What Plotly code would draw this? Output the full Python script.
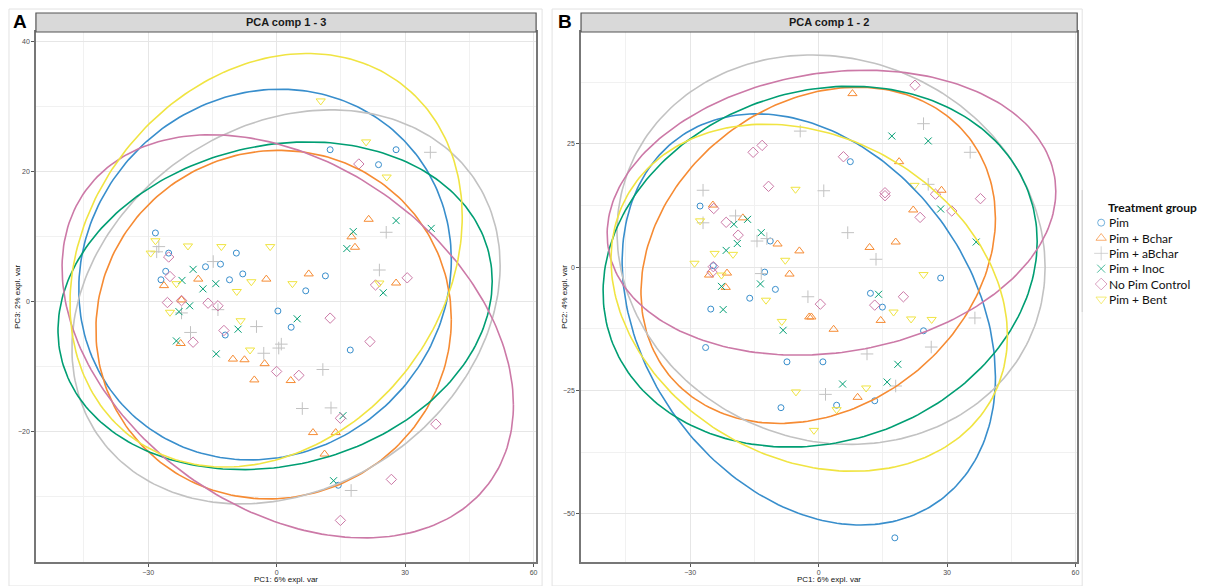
import numpy as np
import plotly.graph_objects as go

# Treatment groups, mixOmics default palette and point symbols
groups = ["Pim", "Pim + Bchar", "Pim + aBchar", "Pim + Inoc", "No Pim Control", "Pim + Bent"]
colors = ["#388ECC", "#F68B33", "#C2C2C2", "#009E73", "#CC79A7", "#F0E442"]
symbols = ["circle-open", "triangle-up-open", "cross-thin-open", "x-thin-open",
           "diamond-open", "triangle-down-open"]
msizes = [6, 8, 9, 7, 8, 8]

# ---- Panel A: PC1 vs PC3 sample scores ----
A_pim_x = [-28.3, -25.9, -27.0, -25.2, -16.6, -13.1, -9.4, -7.9, -11.0, -12.0, 0.3, 3.4, 12.5, 27.9, 23.8, 11.4, 6.8, 17.2, 14.4]
A_pim_y = [10.6, 4.7, 3.4, 7.5, 5.4, 5.8, 7.5, 4.3, 3.4, -5.1, -1.4, -3.9, 23.4, 23.4, 21.1, 4.0, 1.7, -7.4, -28.2]
A_bchar_x = [-26.3, -18.3, -22.2, -22.4, -2.4, -10.2, -7.5, -2.8, 21.5, 17.5, 18.3, 7.5, 27.9, -5.2, 3.3, 8.5, 13.8, 11.2]
A_bchar_y = [2.5, 3.5, 0.3, -6.4, 3.5, -8.8, -8.9, -9.5, 12.7, 10.0, 8.4, 4.3, 2.9, -12.0, -12.1, -20.1, -20.1, -23.4]
A_abchar_x = [-27.5, -28.0, -14.8, -22.2, -13.7, -20.1, -4.7, -3.0, 0.5, 1.1, 35.9, 25.6, 24.0, 10.8, 6.0, 12.7, 17.4]
A_abchar_y = [8.5, 7.7, 6.2, -1.7, -1.2, -4.7, -3.8, -7.9, -7.1, -6.5, 23.0, 10.7, 4.9, -10.4, -16.4, -16.3, -29.0]
A_inoc_x = [-19.5, -22.1, -17.2, -14.2, -20.3, -22.8, -23.4, -9.0, -14.1, 4.8, 17.9, 16.4, 27.9, 36.1, 24.9, 15.5, 13.3]
A_inoc_y = [5.0, 3.3, 2.0, 2.8, -0.6, -1.5, -6.0, -4.2, -8.0, -2.6, 10.8, 8.2, 12.5, 11.3, 1.4, -17.5, -27.5]
A_nopim_x = [-25.2, -24.9, -25.5, -16.0, -13.7, -12.3, -19.5, -22.2, 19.2, 30.5, 23.1, 12.5, 21.8, 0.0, 5.2, 14.9, 37.2, 26.8, 14.9]
A_nopim_y = [6.9, 3.9, -0.1, -0.2, -0.6, -4.4, -6.2, 0.2, 21.2, 3.7, 2.6, -2.5, -6.1, -10.7, -11.3, -17.9, -18.8, -27.3, -33.6]
A_bent_x = [-28.3, -29.4, -20.7, -12.9, -1.5, -5.9, -9.3, 3.7, -23.4, -24.9, -8.4, -6.2, 10.3, 20.9, 25.7, 24.0]
A_bent_y = [9.4, 7.5, 8.6, 8.5, 8.5, 3.1, 1.6, 2.8, 2.8, -1.6, -2.9, -7.4, 30.9, 24.6, 19.2, 2.9]

# ---- Panel B: PC1 vs PC2 sample scores ----
B_pim_x = [-27.7, -24.6, -11.3, -12.6, -10.1, -16.1, -25.2, -26.4, -7.4, 1.0, 7.4, 28.5, 12.1, 14.9, 24.5, 4.2, 13.1, -8.8, 17.8]
B_pim_y = [12.4, 0.3, 5.3, -1.0, -4.5, -6.3, -8.5, -16.3, -19.2, -19.2, 21.4, -2.2, -5.3, -8.1, -12.9, -28.0, -27.1, -28.5, -54.9]
B_bchar_x = [-24.7, -17.7, -9.6, -4.5, -6.8, -21.4, -25.6, -21.7, -2.2, -1.7, 3.5, 7.9, 18.8, 28.7, 22.1, 11.9, 18.0, 14.5, 9.1]
B_bchar_y = [12.6, 10.0, 4.7, 3.3, -1.4, -1.2, -1.6, -4.1, -10.1, -10.1, -12.6, 35.2, 21.4, 15.6, 11.6, 4.0, 5.1, -10.8, -26.4]
B_abchar_x = [-27.0, -27.0, -19.4, -14.4, -12.1, -13.4, -2.5, 1.2, -4.3, 24.5, 35.4, 25.6, 6.8, 13.4, 36.5, 26.3, 11.3, 18.0, 1.6]
B_abchar_y = [15.6, 9.0, 10.4, 5.3, 5.8, -1.3, -6.0, 15.5, 27.6, 29.1, 23.3, 16.8, 7.0, 1.6, -10.3, -16.2, -17.6, -24.1, -25.8]
B_inoc_x = [-16.6, -19.8, -13.4, -19.0, -21.6, -22.7, -13.6, -22.3, -8.3, 17.1, 25.6, 28.5, 36.8, 14.0, 18.5, 5.6, 16.0]
B_inoc_y = [9.7, 8.7, 7.0, 4.8, 3.4, -3.9, -3.4, -8.6, -12.8, 26.6, 25.6, 11.8, 5.1, -5.5, -19.7, -23.7, -23.3]
B_nopim_x = [-15.3, -13.2, -11.7, -24.5, -21.6, -18.8, -24.6, -24.9, 0.4, 22.5, 5.8, 15.5, 27.3, 37.8, 31.1, 23.7, 19.8, 13.1, 15.5]
B_nopim_y = [23.3, 24.7, 16.4, 11.9, 9.1, 6.5, 0.1, -1.0, -7.5, 36.9, 22.4, 15.1, 14.8, 13.9, 11.4, 10.1, -6.0, -7.7, 14.5]
B_bent_x = [-5.4, -27.7, -24.3, -20.0, -29.0, -7.8, -22.7, -12.3, -8.6, 22.4, 24.5, 17.5, 21.6, 26.4, -5.3, 11.1, 4.2, -1.1]
B_bent_y = [15.8, 9.4, 2.8, 2.6, 0.8, 1.4, -1.6, -6.7, -11.0, 16.6, -1.5, -9.1, -10.5, -10.6, -25.3, -24.5, -28.9, -33.1]

# Confidence ellipses per group: centre, half-extent along each axis, correlation
ellA_cx = [-2.7, -0.7, 2.2, -0.35, 2.6, -2.45]
ellA_cy = [4.2, -3.5, -0.77, -0.6, -5.3, 6.4]
ellA_rx = [43.5, 41.5, 50.0, 50.7, 52.7, 45.8]
ellA_ry = [28.5, 26.8, 30.3, 25.2, 31.0, 31.8]
ellA_r = [0.08, 0.03, 0.21, 0.15, -0.34, 0.21]

ellB_cx = [-2.3, -0.1, 2.9, 0.35, 3.0, -2.2]
ellB_cy = [-10.6, 2.4, 3.55, 0.1, 11.05, -6.2]
ellB_rx = [43.6, 41.4, 50.0, 50.7, 52.4, 46.3]
ellB_ry = [41.7, 34.1, 39.5, 36.6, 28.9, 35.2]
ellB_r = [-0.28, 0.22, -0.09, 0.14, 0.15, -0.22]

A_pts = [(A_pim_x, A_pim_y), (A_bchar_x, A_bchar_y), (A_abchar_x, A_abchar_y),
         (A_inoc_x, A_inoc_y), (A_nopim_x, A_nopim_y), (A_bent_x, A_bent_y)]
B_pts = [(B_pim_x, B_pim_y), (B_bchar_x, B_bchar_y), (B_abchar_x, B_abchar_y),
         (B_inoc_x, B_inoc_y), (B_nopim_x, B_nopim_y), (B_bent_x, B_bent_y)]

W, H = 1206, 586


def px(v):
    return v / W


def py(v):
    return 1 - v / H


def ellipse(cx, cy, rx, ry, r, n=240):
    t = np.linspace(0, 2 * np.pi, n)
    phi = np.arccos(r)
    return cx + rx * np.cos(t), cy + ry * np.cos(t - phi)


fig = go.Figure()

panels = [
    ("x", "y", A_pts, (ellA_cx, ellA_cy, ellA_rx, ellA_ry, ellA_r)),
    ("x2", "y2", B_pts, (ellB_cx, ellB_cy, ellB_rx, ellB_ry, ellB_r)),
]
for xa, ya, pts, ell in panels:
    for i, g in enumerate(groups):
        xs, ys = pts[i]
        fig.add_trace(go.Scatter(
            x=xs, y=ys, mode="markers", xaxis=xa, yaxis=ya, name=g,
            showlegend=False, hoverinfo="skip",
            marker=dict(symbol=symbols[i], size=msizes[i], color=colors[i],
                        line=dict(width=1, color=colors[i]))))
    for i, g in enumerate(groups):
        ex, ey = ellipse(ell[0][i], ell[1][i], ell[2][i], ell[3][i], ell[4][i])
        fig.add_trace(go.Scatter(
            x=ex, y=ey, mode="lines", xaxis=xa, yaxis=ya, showlegend=False,
            hoverinfo="skip", line=dict(color=colors[i], width=1.6)))

# Legend keys drawn on their own small hidden axis (1 unit = 1 px horizontally)
leg_y = [5, 4, 3, 2, 1, 0]
fig.add_trace(go.Scatter(
    x=[0] * 6, y=leg_y, mode="markers", xaxis="x3", yaxis="y3",
    showlegend=False, hoverinfo="skip",
    marker=dict(symbol=symbols, size=[7, 9, 10, 8, 9, 9], color=colors,
                line=dict(width=1, color=colors))))

tickfont = dict(family="Liberation Sans, Arial", size=7, color="#4D4D4D")
titlefont = dict(family="Liberation Sans, Arial", size=8, color="#111111")


def xaxis(domain, rng, anchor):
    return dict(domain=domain, range=rng, anchor=anchor,
                tickvals=[-30, 0, 30, 60], ticks="outside", ticklen=3, tickwidth=1,
                tickcolor="#555555", tickfont=tickfont,
                showgrid=True, gridcolor="#E6E6E6", gridwidth=1,
                minor=dict(tickvals=[-45, -15, 15, 45], showgrid=True,
                           gridcolor="#F1F1F1", ticks=""),
                zeroline=False, showline=True, linecolor="#777777", linewidth=1.5,
                mirror=True)


def yaxis(domain, rng, anchor, major, minor):
    return dict(domain=domain, range=rng, anchor=anchor,
                tickvals=major, ticks="outside", ticklen=3, tickwidth=1,
                tickcolor="#555555", tickfont=tickfont,
                showgrid=True, gridcolor="#E6E6E6", gridwidth=1,
                minor=dict(tickvals=minor, showgrid=True, gridcolor="#F1F1F1", ticks=""),
                zeroline=False, showline=True, linecolor="#777777", linewidth=1.5,
                mirror=True)


ydom = [py(562), py(32)]
fig.update_layout(
    width=W, height=H,
    margin=dict(l=0, r=0, t=0, b=0),
    paper_bgcolor="white", plot_bgcolor="white",
    xaxis=xaxis([px(36), px(537)], [-56.2, 60.6], "y"),
    yaxis=yaxis(ydom, [-40.0, 41.5], "x", [-20, 0, 20, 40], [-30, -10, 10, 30]),
    xaxis2=xaxis([px(582), px(1079)], [-55.5, 60.4], "y2"),
    yaxis2=yaxis(ydom, [-59.8, 47.7], "x2", [-50, -25, 0, 25], [-37.5, -12.5, 12.5, 37.5]),
    xaxis3=dict(domain=[px(1085), px(1206)], range=[-18, 103], visible=False,
                anchor="y3", fixedrange=True),
    yaxis3=dict(domain=[py(307), py(215)], range=[-0.5, 5.5], visible=False,
                anchor="x3", fixedrange=True),
    showlegend=False,
    font=dict(family="Liberation Sans, Arial"),
)

shapes = []
annotations = []
# outer frames of the two panels and the legend box edge
shapes.append(dict(type="rect", xref="paper", yref="paper", x0=px(9), x1=px(543),
                   y0=py(586), y1=py(9), line=dict(color="#E2E2E2", width=1)))
shapes.append(dict(type="rect", xref="paper", yref="paper", x0=px(553), x1=px(1084),
                   y0=py(586), y1=py(9), line=dict(color="#E2E2E2", width=1)))
shapes.append(dict(type="line", xref="paper", yref="paper", x0=px(1084), x1=px(1084),
                   y0=py(312), y1=py(190), line=dict(color="#CFCFCF", width=1)))

# facet strips
for (x0, x1), label in [((36, 537), "PCA comp 1 - 3"), ((582, 1079), "PCA comp 1 - 2")]:
    shapes.append(dict(type="rect", xref="paper", yref="paper", x0=px(x0), x1=px(x1),
                       y0=py(32), y1=py(13), fillcolor="#D9D9D9",
                       line=dict(color="#555555", width=1.2)))
    annotations.append(dict(xref="paper", yref="paper", x=px((x0 + x1) / 2), y=py(22.5),
                            text="<b>" + label + "</b>", showarrow=False,
                            font=dict(family="Liberation Sans, Arial", size=11,
                                      color="#1A1A1A"),
                            xanchor="center", yanchor="middle"))

# axis titles
for x, y, txt, ang in [(286, 579, "PC1: 6% expl. var", 0), (17, 297, "PC3: 2% expl. var", -90),
                       (830, 579, "PC1: 6% expl. var", 0), (565, 297, "PC2: 4% expl. var", -90)]:
    annotations.append(dict(xref="paper", yref="paper", x=px(x), y=py(y), text=txt,
                            showarrow=False, textangle=ang, font=titlefont,
                            xanchor="center", yanchor="middle"))

# panel letters
for x, lab in [(20, "A"), (566, "B")]:
    annotations.append(dict(xref="paper", yref="paper", x=px(x), y=py(21.5),
                            text="<b>" + lab + "</b>", showarrow=False,
                            font=dict(family="Liberation Sans, Arial", size=19, color="#000000"),
                            xanchor="center", yanchor="middle"))

# legend title and labels
annotations.append(dict(xref="paper", yref="paper", x=px(1108), y=py(207),
                        text="<b>Treatment group</b>", showarrow=False,
                        font=dict(family="Lato, sans-serif", size=12, color="#111111"),
                        xanchor="left", yanchor="middle"))
for i, g in enumerate(groups):
    annotations.append(dict(xref="x3", yref="y3", x=6, y=leg_y[i], text=g,
                            showarrow=False,
                            font=dict(family="Lato, sans-serif", size=12, color="#111111"),
                            xanchor="left", yanchor="middle"))

fig.update_layout(shapes=shapes, annotations=annotations)
fig.write_html("out.html")
